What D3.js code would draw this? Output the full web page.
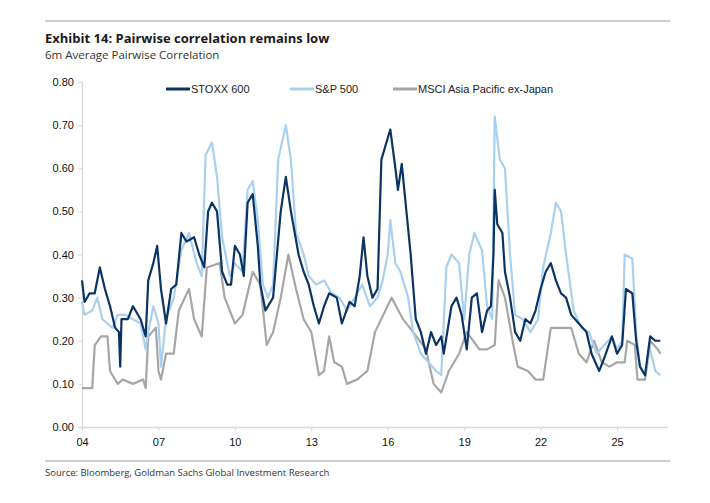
<!DOCTYPE html>
<html><head><meta charset="utf-8">
<script src="https://cdn.jsdelivr.net/npm/d3@7.9.0/dist/d3.min.js"></script>
<style>
body{margin:0;background:#fff;}
text{font-family:"Liberation Sans",Arial,sans-serif;}
</style></head>
<body><svg id="chart" width="710" height="503"></svg>
<script>
const stoxx = [
  [2004.0,0.34],[2004.1,0.29],[2004.3,0.31],[2004.5,0.31],[2004.7,0.37],[2004.9,0.32],[2005.1,0.28],[2005.3,0.23],
  [2005.45,0.22],[2005.5,0.14],[2005.55,0.25],[2005.8,0.25],[2006.0,0.28],[2006.3,0.25],[2006.5,0.21],[2006.6,0.34],
  [2006.8,0.38],[2006.95,0.42],[2007.1,0.32],[2007.3,0.24],[2007.5,0.32],[2007.7,0.33],[2007.9,0.45],[2008.1,0.43],
  [2008.4,0.44],[2008.6,0.40],[2008.8,0.37],[2008.95,0.50],[2009.1,0.52],[2009.3,0.50],[2009.5,0.36],[2009.7,0.33],
  [2009.85,0.33],[2010.0,0.42],[2010.2,0.40],[2010.35,0.35],[2010.5,0.52],[2010.7,0.54],[2010.9,0.42],[2011.0,0.33],
  [2011.2,0.27],[2011.5,0.30],[2011.8,0.50],[2012.0,0.58],[2012.2,0.50],[2012.5,0.40],[2012.7,0.36],[2012.9,0.33],
  [2013.1,0.28],[2013.3,0.24],[2013.5,0.28],[2013.7,0.31],[2014.0,0.30],[2014.2,0.24],[2014.5,0.29],[2014.7,0.28],
  [2014.9,0.35],[2015.05,0.44],[2015.2,0.35],[2015.4,0.30],[2015.6,0.32],[2015.75,0.62],[2016.0,0.67],[2016.1,0.69],
  [2016.3,0.60],[2016.4,0.55],[2016.55,0.61],[2016.7,0.52],[2016.9,0.40],[2017.1,0.25],[2017.3,0.22],[2017.5,0.17],
  [2017.7,0.22],[2017.9,0.19],[2018.1,0.21],[2018.2,0.17],[2018.5,0.28],[2018.7,0.30],[2018.9,0.26],[2019.1,0.18],
  [2019.3,0.30],[2019.5,0.31],[2019.7,0.22],[2019.9,0.27],[2020.05,0.28],[2020.15,0.40],[2020.2,0.55],[2020.3,0.47],
  [2020.5,0.45],[2020.6,0.36],[2020.8,0.30],[2021.0,0.22],[2021.2,0.20],[2021.4,0.25],[2021.6,0.24],[2021.8,0.27],
  [2022.0,0.32],[2022.2,0.36],[2022.4,0.38],[2022.6,0.34],[2022.8,0.31],[2023.0,0.30],[2023.2,0.26],[2023.5,0.24],
  [2023.8,0.22],[2024.0,0.17],[2024.3,0.13],[2024.5,0.16],[2024.8,0.21],[2025.0,0.17],[2025.2,0.19],[2025.35,0.32],
  [2025.6,0.31],[2025.75,0.20],[2025.9,0.14],[2026.1,0.12],[2026.3,0.21],[2026.5,0.20],[2026.7,0.20]
];
const spx = [
  [2004.0,0.29],[2004.1,0.26],[2004.4,0.27],[2004.6,0.30],[2004.8,0.25],[2005.0,0.24],[2005.2,0.23],[2005.4,0.26],
  [2005.7,0.26],[2006.0,0.25],[2006.3,0.24],[2006.5,0.18],[2006.6,0.22],[2006.8,0.28],[2007.0,0.24],[2007.1,0.14],
  [2007.3,0.25],[2007.6,0.30],[2007.9,0.41],[2008.2,0.45],[2008.5,0.38],[2008.7,0.35],[2008.85,0.63],[2009.1,0.66],
  [2009.3,0.58],[2009.5,0.44],[2009.8,0.35],[2010.0,0.38],[2010.3,0.36],[2010.5,0.55],[2010.7,0.57],[2010.9,0.48],
  [2011.1,0.33],[2011.3,0.30],[2011.5,0.33],[2011.7,0.62],[2012.0,0.70],[2012.2,0.62],[2012.4,0.45],[2012.7,0.40],
  [2012.9,0.35],[2013.2,0.33],[2013.5,0.34],[2013.8,0.31],[2014.1,0.30],[2014.4,0.27],[2014.7,0.30],[2015.0,0.33],
  [2015.3,0.28],[2015.6,0.30],[2015.8,0.34],[2016.0,0.40],[2016.1,0.48],[2016.3,0.38],[2016.5,0.36],[2016.8,0.30],
  [2017.0,0.22],[2017.3,0.17],[2017.6,0.15],[2017.9,0.13],[2018.1,0.12],[2018.3,0.37],[2018.5,0.40],[2018.8,0.38],
  [2019.0,0.25],[2019.2,0.40],[2019.4,0.45],[2019.7,0.41],[2019.9,0.28],[2020.1,0.25],[2020.2,0.72],[2020.4,0.62],
  [2020.6,0.60],[2020.8,0.40],[2021.0,0.26],[2021.3,0.25],[2021.6,0.22],[2021.9,0.25],[2022.1,0.37],[2022.4,0.45],
  [2022.6,0.52],[2022.8,0.50],[2023.0,0.40],[2023.3,0.27],[2023.6,0.23],[2023.9,0.22],[2024.2,0.17],[2024.5,0.19],
  [2024.8,0.21],[2025.0,0.18],[2025.2,0.20],[2025.3,0.40],[2025.6,0.39],[2025.75,0.22],[2025.9,0.14],[2026.1,0.12],
  [2026.3,0.18],[2026.5,0.13],[2026.7,0.12]
];
const msci = [
  [2004.0,0.09],[2004.4,0.09],[2004.5,0.19],[2004.75,0.21],[2005.0,0.21],[2005.1,0.13],[2005.4,0.10],[2005.6,0.11],
  [2006.0,0.10],[2006.4,0.11],[2006.5,0.09],[2006.6,0.21],[2006.9,0.23],[2007.0,0.13],[2007.1,0.11],[2007.3,0.17],
  [2007.6,0.17],[2007.8,0.27],[2008.2,0.32],[2008.4,0.25],[2008.7,0.21],[2008.9,0.37],[2009.4,0.38],[2009.6,0.30],
  [2010.0,0.24],[2010.3,0.26],[2010.7,0.36],[2011.0,0.33],[2011.25,0.19],[2011.5,0.22],[2011.8,0.30],[2012.1,0.40],
  [2012.4,0.32],[2012.7,0.25],[2013.0,0.22],[2013.3,0.12],[2013.5,0.13],[2013.7,0.21],[2013.9,0.15],[2014.2,0.14],
  [2014.4,0.10],[2014.8,0.11],[2015.0,0.12],[2015.2,0.13],[2015.5,0.22],[2016.15,0.30],[2016.6,0.25],[2017.0,0.22],
  [2017.5,0.18],[2017.8,0.10],[2018.1,0.08],[2018.4,0.13],[2018.8,0.17],[2019.1,0.22],[2019.6,0.18],[2019.9,0.18],
  [2020.2,0.19],[2020.35,0.34],[2020.6,0.30],[2020.9,0.20],[2021.1,0.14],[2021.5,0.13],[2021.8,0.11],[2022.1,0.11],
  [2022.4,0.23],[2022.9,0.23],[2023.2,0.23],[2023.5,0.17],[2023.8,0.15],[2024.1,0.20],[2024.4,0.15],[2024.7,0.14],
  [2025.0,0.15],[2025.3,0.15],[2025.4,0.20],[2025.7,0.19],[2025.8,0.11],[2026.1,0.11],[2026.3,0.20],[2026.6,0.18],
  [2026.7,0.17]
];
const xTicks = [2004, 2007, 2010, 2013, 2016, 2019, 2022, 2025];
const yTicks = [0, 0.1, 0.2, 0.3, 0.4, 0.5, 0.6, 0.7, 0.8];
const seriesNames = ['STOXX 600', 'S&P 500', 'MSCI Asia Pacific ex-Japan'];
const seriesColors = ['#0b3463', '#a9d0ef', '#a6a6a6'];

const svg = d3.select('#chart');
const margin = { top: 82, right: 42, bottom: 76, left: 82 };
const width = 710, height = 503;

const x = d3.scaleLinear().domain([2004, 2027]).range([margin.left, width - margin.right]);
const y = d3.scaleLinear().domain([0, 0.8]).range([height - margin.bottom, margin.top]);

// header rules and text
svg.append('line').attr('x1', 45).attr('x2', 670).attr('y1', 21).attr('y2', 21).attr('stroke', '#999');
svg.append('text').attr('x', 45).attr('y', 43).text('Exhibit 14: Pairwise correlation remains low')
  .style('font-family', '"Open Sans",sans-serif').style('font-weight', 700).style('font-size', '13px').attr('fill', '#1a1a1a');
svg.append('text').attr('x', 45).attr('y', 59).text('6m Average Pairwise Correlation')
  .style('font-family', '"Open Sans",sans-serif').style('font-size', '11.5px').attr('fill', '#333');

// axes
const yAxis = svg.append('g').attr('transform', `translate(${margin.left},0)`)
  .call(d3.axisLeft(y).tickValues(yTicks).tickFormat(d3.format('.2f')).tickSize(4));
const xAxis = svg.append('g').attr('transform', `translate(0,${height - margin.bottom})`)
  .call(d3.axisBottom(x).tickValues(xTicks).tickFormat(d => String(d).slice(2)).tickSize(4).tickSizeOuter(0));
[xAxis, yAxis].forEach(g => {
  g.select('.domain').attr('stroke', '#d9d9d9').attr('stroke-width', 1.5);
  g.selectAll('.tick line').attr('stroke', '#d9d9d9');
  g.selectAll('.tick text').attr('fill', '#111').style('font-size', '11px')
    .style('font-family', '"Liberation Sans",Arial,sans-serif');
});
yAxis.selectAll('.tick text').attr('x', -8);
xAxis.selectAll('.tick text').attr('dy', '1.1em');

// lines
const line = d3.line().x(d => x(d[0])).y(d => y(d[1]));
[[msci, 2], [spx, 1], [stoxx, 0]].forEach(([data, i]) => {
  svg.append('path').datum(data).attr('d', line).attr('fill', 'none')
    .attr('stroke', seriesColors[i]).attr('stroke-width', 2.2).attr('stroke-linejoin', 'round');
});

// legend
const legendX = [166, 290, 393];
seriesNames.forEach((name, i) => {
  const g = svg.append('g').attr('transform', `translate(${legendX[i]},89)`);
  g.append('line').attr('x1', 0).attr('x2', 24).attr('stroke', seriesColors[i]).attr('stroke-width', 3);
  g.append('text').attr('x', 25).attr('y', 4).text(name).style('font-size', '11px').attr('fill', '#222');
});

// footer
svg.append('line').attr('x1', 45).attr('x2', 670).attr('y1', 461).attr('y2', 461).attr('stroke', '#999');
svg.append('text').attr('x', 45).attr('y', 476).text('Source: Bloomberg, Goldman Sachs Global Investment Research')
  .style('font-family', '"Open Sans",sans-serif').style('font-size', '9.5px').attr('fill', '#333');
</script></body></html>
